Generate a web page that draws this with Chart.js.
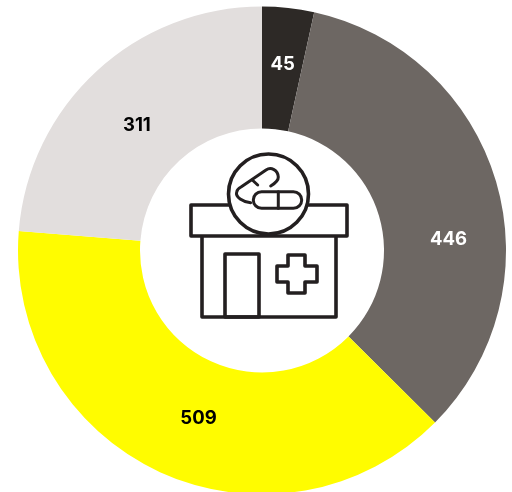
<!DOCTYPE html>
<html><head><meta charset="utf-8">
<style>html,body{margin:0;padding:0;background:#fff;overflow:hidden;width:512px;height:492px}
#wrap{position:relative;width:512px;height:500px}</style>
<script src="https://cdn.jsdelivr.net/npm/chart.js@4"></script></head>
<body><div id="wrap"><canvas id="c" width="512" height="500"></canvas></div>
<script>
const categories=['A','B','C','D'];
const values=[45,446,509,311];
const colors=['#2D2926','#6D6763','#FFFC00','#E2DEDD'];
const labelColors=['#ffffff','#ffffff','#000000','#000000'];
const labelShift=[[1,-4],[11,41],[13,2],[-1,9]];

const valueLabels={id:'valueLabels',afterDatasetsDraw(chart){
  const g=chart.ctx,arcs=chart.getDatasetMeta(0).data;
  g.save();g.font='bold 18.5px Inter, "Liberation Sans"';g.textAlign='center';g.textBaseline='middle';
  arcs.forEach((a,i)=>{const p=a.tooltipPosition();g.fillStyle=labelColors[i];
    g.fillText(String(values[i]),p.x+labelShift[i][0],p.y+labelShift[i][1]);});
  g.restore();
}};
const icon={id:'icon',afterDraw(chart){
  const g=chart.ctx,a=chart.getDatasetMeta(0).data[0];
  g.save();g.translate(a.x,a.y-0.5);g.strokeStyle='#231F20';g.lineWidth=3.6;g.lineJoin='round';g.lineCap='round';g.fillStyle='#fff';
  g.strokeRect(-60,-15,134,82);
  g.beginPath();g.rect(-71,-45,156,31);g.fill();g.stroke();
  g.strokeRect(-37,4,34,63);
  g.beginPath();
  [[26,5],[43,5],[43,16],[55,16],[55,32],[43,32],[43,43],[26,43],[26,32],[15,32],[15,16],[26,16]].forEach((p,i)=>i?g.lineTo(p[0],p[1]):g.moveTo(p[0],p[1]));
  g.closePath();g.stroke();
  g.beginPath();g.arc(6.5,-56,40,0,Math.PI*2);g.fill();g.stroke();
  g.lineWidth=3;
  g.beginPath();g.moveTo(-11.3,-47.3);g.bezierCurveTo(-19,-48,-27,-53,-25.3,-58);g.bezierCurveTo(-25,-60,-23,-62,-21,-63);
  g.lineTo(4,-80);g.bezierCurveTo(9,-83.5,16,-80,16.3,-73);g.bezierCurveTo(16.5,-69,12,-66,8.7,-64);g.stroke();
  g.beginPath();g.moveTo(-9.7,-70);g.lineTo(-4.3,-65);g.stroke();
  g.beginPath();g.roundRect(-8.7,-58.3,48.4,16.6,8.3);g.stroke();
  g.beginPath();g.moveTo(16.3,-58.3);g.lineTo(16.3,-41.7);g.stroke();
  g.restore();
}};
new Chart(document.getElementById('c'),{type:'doughnut',
  data:{labels:categories,datasets:[{data:values,backgroundColor:colors,borderWidth:0}]},
  plugins:[valueLabels,icon],
  options:{responsive:false,animation:false,cutout:'50%',
    layout:{padding:{left:18,right:6,top:6,bottom:5}},
    plugins:{legend:{display:false},tooltip:{enabled:false}}}});
</script></body></html>
